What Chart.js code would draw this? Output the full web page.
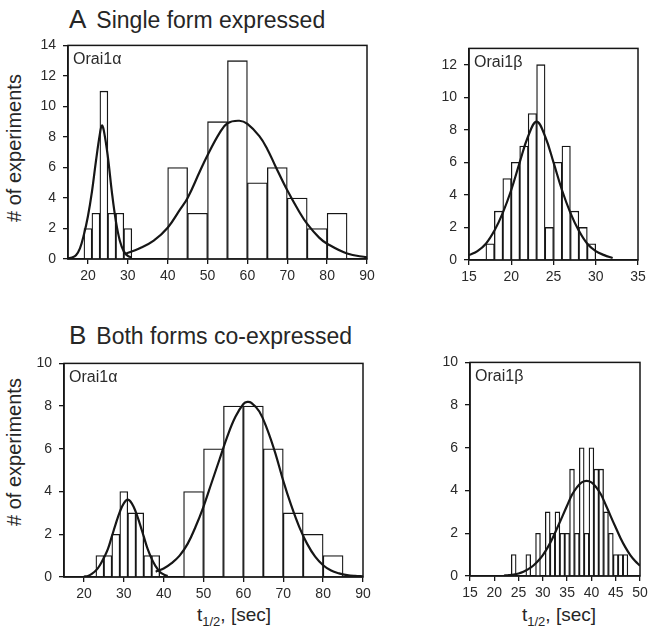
<!DOCTYPE html>
<html>
<head>
<meta charset="utf-8">
<script src="https://cdn.jsdelivr.net/npm/chart.js@4.4.0/dist/chart.umd.min.js"></script>
<style>
  body { margin: 0; background: #fff; width: 653px; height: 642px; position: relative; overflow: hidden;
         font-family: "Liberation Sans", Arial, sans-serif; color: #262626; }
  canvas { position: absolute; }
  .heading { position: absolute; left: 69px; font-size: 23px; line-height: 1; white-space: nowrap; }
  .heading .letter { font-size: 26px; margin-right: 10px; }
  .ytitle { position: absolute; font-size: 20px; white-space: nowrap; transform: translate(-50%, -50%) rotate(-90deg); }
  .xtitle { position: absolute; font-size: 19px; white-space: nowrap; }
  .xtitle sub { font-size: 13px; }
</style>
</head>
<body>
<div class="heading" style="top:6px"><span class="letter">A</span>Single form expressed</div>
<div class="heading" style="top:322px"><span class="letter">B</span>Both forms co-expressed</div>
<div class="ytitle" style="left:14px; top:148px"># of experiments</div>
<div class="ytitle" style="left:14px; top:452px"># of experiments</div>
<div class="xtitle" style="left:197px; top:604px">t<sub>1/2</sub>, [sec]</div>
<div class="xtitle" style="left:522px; top:604px">t<sub>1/2</sub>, [sec]</div>

<canvas id="aAlpha" width="351" height="257" style="left:28px; top:30px"></canvas>
<canvas id="aBeta" width="221" height="255" style="left:429px; top:33px"></canvas>
<canvas id="bAlpha" width="351" height="257" style="left:24px; top:348px"></canvas>
<canvas id="bBeta" width="222" height="257" style="left:430px; top:347px"></canvas>

<script>
// ---- A: single form expressed ----
// Orai1 alpha: fast population (2 s bins) and slow population (5 s bins)
const aAlphaFastBins = [20, 22, 24, 26, 28, 30];
const aAlphaFastCounts = [2, 3, 11, 3, 3, 2];
const aAlphaSlowBins = [42.5, 47.5, 52.5, 57.5, 62.5, 67.5, 72.5, 77.5, 82.5];
const aAlphaSlowCounts = [6, 3, 9, 13, 5, 6, 4, 2, 3];
const aAlphaFastFitX = [15, 16, 17, 18, 19, 20, 21, 22, 23, 23.5, 24, 25, 26, 27, 28, 29, 30, 31];
const aAlphaFastFitY = [0.05, 0.1, 0.25, 0.7, 1.6, 2.8, 4.4, 6.4, 8.2, 8.75, 8.4, 6.7, 4.4, 2.5, 1.2, 0.5, 0.2, 0.1];
const aAlphaSlowFitX = [29.5, 33, 36.5, 40, 43, 45, 48, 50, 53, 55, 58, 60, 63, 65, 67, 70, 73, 75, 78, 80, 85, 90];
const aAlphaSlowFitY = [0.35, 0.7, 1.2, 2.05, 3.2, 4.0, 5.7, 6.8, 8.25, 8.9, 9.06, 8.85, 8.05, 7.2, 6.1, 4.5, 3.1, 2.3, 1.4, 1.0, 0.36, 0.1];
const alphaXTicks = [20, 30, 40, 50, 60, 70, 80, 90];
const aAlphaYTicks = [0, 2, 4, 6, 8, 10, 12, 14];

// Orai1 beta (1 s bins)
const aBetaBins = [17.5, 18.5, 19.5, 20.5, 21.5, 22.5, 23.5, 24.5, 25.5, 26.5, 27.5, 28.5, 29.5];
const aBetaCounts = [1, 3, 5, 6, 7, 9, 12, 2, 6, 7, 3, 2, 1];
const aBetaFitX = [15, 16, 17, 18, 19, 20, 21, 22, 23, 24, 25, 26, 27, 28, 29, 30, 31, 32];
const aBetaFitY = [0.3, 0.55, 1.0, 1.8, 2.9, 4.3, 6.0, 7.6, 8.5, 7.6, 6.0, 4.3, 2.9, 1.8, 1.0, 0.55, 0.3, 0.12];
const aBetaXTicks = [15, 20, 25, 30, 35];
const aBetaYTicks = [0, 2, 4, 6, 8, 10, 12];

// ---- B: both forms co-expressed ----
const bAlphaFastBins = [24, 26, 28, 30, 32, 34, 36, 38];
const bAlphaFastCounts = [1, 1, 2, 4, 3, 3, 1, 1];
const bAlphaSlowBins = [47.5, 52.5, 57.5, 62.5, 67.5, 72.5, 77.5, 82.5];
const bAlphaSlowCounts = [4, 6, 8, 8, 6, 3, 2, 1];
const bAlphaFastFitX = [20, 21, 22, 23, 24, 25, 26, 27, 28, 29, 30, 31, 32, 33, 34, 35, 36, 37, 38, 39, 40, 41];
const bAlphaFastFitY = [0.02, 0.05, 0.15, 0.3, 0.55, 0.9, 1.3, 1.9, 2.5, 3.05, 3.45, 3.62, 3.45, 3.05, 2.5, 1.9, 1.3, 0.85, 0.5, 0.25, 0.12, 0.05];
const bAlphaSlowFitX = [38, 40, 42, 44, 46, 48, 50, 52, 54, 56, 58, 60, 61, 62, 64, 66, 68, 70, 72, 74, 76, 78, 80, 82, 84, 86, 88, 90];
const bAlphaSlowFitY = [0.25, 0.4, 0.65, 1.0, 1.55, 2.35, 3.3, 4.4, 5.5, 6.6, 7.5, 8.1, 8.2, 8.15, 7.75, 6.9, 5.8, 4.5, 3.35, 2.35, 1.55, 0.95, 0.55, 0.3, 0.17, 0.09, 0.05, 0.03];
const bYTicks = [0, 2, 4, 6, 8, 10];

const bBetaBins = [24, 27, 29, 31, 32, 33, 34, 35, 36, 37, 38, 39, 40, 41, 42, 43, 44, 45, 46, 47];
const bBetaCounts = [1, 1, 2, 3, 2, 3, 2, 2, 5, 2, 6, 2, 6, 5, 5, 3, 2, 1, 1, 1];
const bBetaFitX = [22, 23, 24, 25, 26, 27, 28, 29, 30, 31, 32, 33, 34, 35, 36, 37, 38, 39, 40, 41, 42, 43, 44, 45, 46, 47, 48, 49, 50];
const bBetaFitY = [0.02, 0.04, 0.07, 0.12, 0.2, 0.32, 0.48, 0.7, 0.98, 1.34, 1.77, 2.27, 2.78, 3.3, 3.8, 4.15, 4.38, 4.45, 4.38, 4.15, 3.8, 3.3, 2.78, 2.27, 1.77, 1.34, 0.98, 0.7, 0.48];
const bBetaXTicks = [15, 20, 25, 30, 35, 40, 45, 50];

const ink = "#161616";
const textColor = "#2a2a2a";
const fontFamily = "'Liberation Sans', Arial, sans-serif";

function toPoints(xs, ys) {
  return xs.map((x, i) => ({ x: x, y: ys[i] }));
}

// box round the plot area plus the "Orai1x" label in its corner
const framePlugin = {
  id: "frame",
  afterDraw(chart, args, opts) {
    const { ctx, chartArea } = chart;
    ctx.save();
    ctx.strokeStyle = ink;
    ctx.lineWidth = 1.5;
    ctx.strokeRect(chartArea.left, chartArea.top, chartArea.right - chartArea.left, chartArea.bottom - chartArea.top);
    ctx.fillStyle = textColor;
    ctx.font = "16px " + fontFamily;
    ctx.textBaseline = "alphabetic";
    ctx.fillText(opts.label, chartArea.left + 5, chartArea.top + 19);
    ctx.restore();
  }
};

function drawPanel(canvasId, p) {
  let datasets = [];
  p.fits.forEach(f => {
    datasets.push({
      type: "line",
      data: toPoints(f.x, f.y),
      borderColor: ink,
      borderWidth: 2.2,
      pointRadius: 0,
      tension: 0.4,
      fill: false,
      order: 0,
      xAxisID: "xFit"
    });
  });
  // each bin width gets its own (hidden) x axis so the bar width follows its own bin spacing
  p.bars.forEach((b, i) => {
    datasets.push({
      type: "bar",
      data: toPoints(b.x, b.y),
      backgroundColor: "#fff",
      borderColor: ink,
      borderWidth: 1.3,
      grouped: false,
      barPercentage: 1,
      categoryPercentage: 1,
      order: 1,
      xAxisID: "xBars" + i
    });
  });

  let axisFont = { size: 14, family: fontFamily };
  let hiddenX = { type: "linear", display: false, min: p.xMin, max: p.xMax, offset: false, grid: { offset: false } };
  let scales = {
    x: {
      type: "linear",
      min: p.xMin,
      max: p.xMax,
      offset: false,
      afterBuildTicks: s => { s.ticks = p.xTicks.map(v => ({ value: v })); },
      afterFit: s => { s.height = 28; },
      grid: { offset: false, drawOnChartArea: false, tickLength: 5, color: ink, lineWidth: 1.3 },
      border: { color: ink, width: 1.5 },
      ticks: { color: textColor, font: axisFont, padding: 4, autoSkip: false, maxRotation: 0 }
    },
    xFit: hiddenX,
    y: {
      min: 0,
      max: p.yMax,
      afterBuildTicks: s => { s.ticks = p.yTicks.map(v => ({ value: v })); },
      afterFit: s => { s.width = 40; },
      grid: { drawOnChartArea: false, tickLength: 5, color: ink, lineWidth: 1.3 },
      border: { color: ink, width: 1.5 },
      ticks: { color: textColor, font: axisFont, padding: 7 }
    }
  };
  p.bars.forEach((b, i) => { scales["xBars" + i] = Object.assign({}, hiddenX); });

  new Chart(document.getElementById(canvasId), {
    type: "line",
    data: { datasets: datasets },
    options: {
      responsive: false,
      animation: false,
      layout: { padding: { top: 10, right: 12, left: 0, bottom: 0 } },
      plugins: { legend: { display: false }, tooltip: { enabled: false }, frame: { label: p.label } },
      scales: scales
    },
    plugins: [framePlugin]
  });
}

drawPanel("aAlpha", {
  label: "Orai1\u03b1",
  xMin: 15, xMax: 90, yMax: 14,
  xTicks: alphaXTicks, yTicks: aAlphaYTicks,
  bars: [{ x: aAlphaFastBins, y: aAlphaFastCounts }, { x: aAlphaSlowBins, y: aAlphaSlowCounts }],
  fits: [{ x: aAlphaFastFitX, y: aAlphaFastFitY }, { x: aAlphaSlowFitX, y: aAlphaSlowFitY }]
});

drawPanel("aBeta", {
  label: "Orai1\u03b2",
  xMin: 15, xMax: 35, yMax: 13,
  xTicks: aBetaXTicks, yTicks: aBetaYTicks,
  bars: [{ x: aBetaBins, y: aBetaCounts }],
  fits: [{ x: aBetaFitX, y: aBetaFitY }]
});

drawPanel("bAlpha", {
  label: "Orai1\u03b1",
  xMin: 15, xMax: 90, yMax: 10,
  xTicks: alphaXTicks, yTicks: bYTicks,
  bars: [{ x: bAlphaFastBins, y: bAlphaFastCounts }, { x: bAlphaSlowBins, y: bAlphaSlowCounts }],
  fits: [{ x: bAlphaFastFitX, y: bAlphaFastFitY }, { x: bAlphaSlowFitX, y: bAlphaSlowFitY }]
});

drawPanel("bBeta", {
  label: "Orai1\u03b2",
  xMin: 15, xMax: 50, yMax: 10,
  xTicks: bBetaXTicks, yTicks: bYTicks,
  bars: [{ x: bBetaBins, y: bBetaCounts }],
  fits: [{ x: bBetaFitX, y: bBetaFitY }]
});
</script>
</body>
</html>
